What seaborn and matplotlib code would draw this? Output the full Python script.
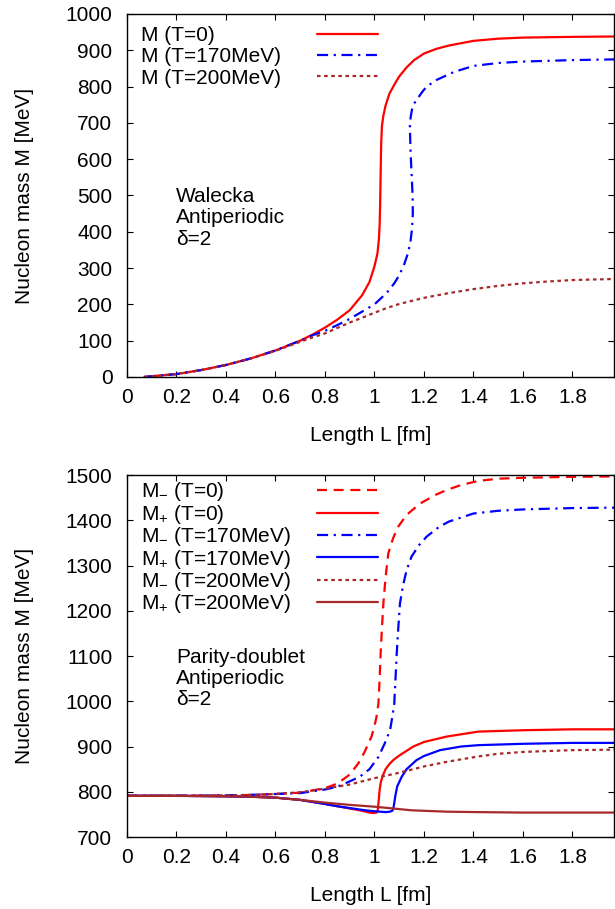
import matplotlib
matplotlib.use('Agg')
import matplotlib.pyplot as plt
from matplotlib.ticker import MultipleLocator, FormatStrFormatter
import seaborn as sns

# ---------------- Walecka, antiperiodic, delta=2 ----------------
wal_L_T0 = [0.07, 0.1, 0.15, 0.2, 0.3, 0.4, 0.5, 0.6, 0.7, 0.75, 0.8, 0.85, 0.9, 0.95, 0.98,
            1.0, 1.012, 1.018, 1.021, 1.023, 1.025, 1.027, 1.03, 1.036, 1.045, 1.06, 1.08,
            1.1, 1.13, 1.16, 1.2, 1.25, 1.3, 1.4, 1.5, 1.6, 1.8, 1.97]
wal_M_T0 = [0, 2, 5, 8, 19, 33, 51, 73, 100, 117, 136, 158, 184, 225, 262,
            305, 340, 380, 420, 480, 560, 640, 690, 720, 748, 780, 805,
            828, 853, 873, 891, 904, 913, 926, 932, 935, 937, 938]

wal_L_T170 = [0.07, 0.1, 0.15, 0.2, 0.3, 0.4, 0.5, 0.6, 0.7, 0.75, 0.8, 0.85, 0.9, 0.95,
              1.0, 1.05, 1.08, 1.1, 1.12, 1.135, 1.145, 1.152, 1.155, 1.154, 1.15, 1.146,
              1.143, 1.146, 1.152, 1.162, 1.177, 1.195, 1.211, 1.25, 1.32, 1.4, 1.5, 1.6,
              1.8, 1.97]
wal_M_T170 = [0, 2, 5, 8, 19, 33, 51, 73, 100, 115, 127, 143, 160, 180,
              200, 232, 258, 280, 310, 340, 370, 410, 450, 500, 560, 620,
              690, 715, 738, 755, 770, 787, 800, 818, 840, 857, 865, 869,
              873, 875]

wal_L_T200 = [0.07, 0.1, 0.15, 0.2, 0.3, 0.4, 0.5, 0.6, 0.7, 0.75, 0.8, 0.85, 0.9, 0.95,
              1.0, 1.05, 1.1, 1.2, 1.3, 1.4, 1.5, 1.6, 1.7, 1.8, 1.97]
wal_M_T200 = [0, 2, 5, 8, 19, 33, 51, 72, 97, 109, 120, 135, 150, 163,
              177, 190, 201, 218, 231, 242, 251, 258, 263, 267, 270]

# ---------------- Parity doublet, antiperiodic, delta=2 ----------------
pd_L_minus_T0 = [0, 0.2, 0.4, 0.5, 0.6, 0.7, 0.8, 0.85, 0.9, 0.935, 0.96, 0.988, 1.0, 1.008,
                 1.016, 1.02, 1.025, 1.03, 1.036, 1.045, 1.056, 1.075, 1.096, 1.13, 1.184,
                 1.25, 1.292, 1.35, 1.42, 1.5, 1.6, 1.8, 1.97]
pd_M_minus_T0 = [791, 791, 792, 793, 795, 798, 808, 818, 838, 863, 888, 922, 945, 965,
                 995, 1040, 1106, 1160, 1216, 1275, 1327, 1360, 1386, 1412, 1437,
                 1457, 1467, 1478, 1487, 1492, 1494, 1496, 1497]

pd_L_plus_T0 = [0, 0.2, 0.4, 0.5, 0.6, 0.7, 0.8, 0.85, 0.9, 0.95, 0.98, 0.995, 1.008, 1.013,
                1.017, 1.021, 1.026, 1.033, 1.045, 1.06, 1.076, 1.1, 1.157, 1.2, 1.292,
                1.42, 1.6, 1.8, 1.97]
pd_M_plus_T0 = [791, 791, 790, 789, 787, 782, 773, 768, 763, 758, 754, 753, 754, 757,
                780, 805, 822, 835, 850, 861, 870, 880, 900, 910, 922,
                933, 936, 938, 938]

pd_L_minus_T170 = [0, 0.2, 0.4, 0.5, 0.6, 0.7, 0.8, 0.85, 0.9, 0.94, 0.98, 1.016, 1.04, 1.063,
                   1.072, 1.08, 1.085, 1.09, 1.096, 1.103, 1.115, 1.13, 1.15, 1.18, 1.211,
                   1.26, 1.3, 1.4, 1.5, 1.6, 1.8, 1.97]
pd_M_minus_T170 = [791, 791, 792, 793, 795, 797, 805, 811, 823, 833, 850, 877, 905, 936,
                   965, 995, 1050, 1106, 1160, 1216, 1255, 1290, 1320, 1345, 1364,
                   1385, 1397, 1415, 1421, 1424, 1427, 1428]

pd_L_plus_T170 = [0, 0.2, 0.4, 0.5, 0.6, 0.7, 0.8, 0.85, 0.9, 0.95, 0.98, 1.0, 1.022, 1.045,
                  1.062, 1.072, 1.076, 1.08, 1.084, 1.092, 1.11, 1.13, 1.17, 1.2, 1.265,
                  1.35, 1.42, 1.6, 1.8, 1.97]
pd_M_plus_T170 = [791, 791, 790, 789, 787, 782, 773, 768, 764, 760, 758, 757, 756, 755,
                  756, 758, 762, 775, 790, 812, 833, 850, 870, 879, 892,
                  900, 903, 906, 908, 908]

pd_L_minus_T200 = [0, 0.2, 0.4, 0.5, 0.6, 0.7, 0.8, 0.9, 0.95, 1.0, 1.05, 1.1, 1.2, 1.3,
                   1.42, 1.5, 1.6, 1.8, 1.97]
pd_M_minus_T200 = [791, 791, 792, 793, 795, 799, 807, 816, 823, 830, 836, 842, 856, 867,
                   878, 884, 888, 892, 893]

pd_L_plus_T200 = [0, 0.2, 0.4, 0.5, 0.6, 0.7, 0.8, 0.9, 1.0, 1.076, 1.15, 1.29, 1.42, 1.6,
                  1.8, 1.97]
pd_M_plus_T200 = [791, 791, 790, 789, 787, 782, 776, 771, 767, 763, 759, 756, 755, 754,
                  754, 754]

red = '#ff0000'
blue = '#0000ff'
brown = '#a52a2a'
solid = '-'
dashed = (0, (4.5, 3))
dashdot = (0, (5, 2.5, 1, 2.5))
dotted = (0, (1.6, 1.6))
fs = 15

sns.set_theme(style='ticks')
plt.rcParams['font.family'] = ['Liberation Sans', 'DejaVu Sans']
plt.rcParams['mathtext.fontset'] = 'custom'
plt.rcParams['mathtext.rm'] = 'Liberation Sans'
plt.rcParams['mathtext.it'] = 'Liberation Sans:italic'
plt.rcParams['font.size'] = fs
plt.rcParams['text.color'] = 'black'
plt.rcParams['axes.labelcolor'] = 'black'

fig = plt.figure(figsize=(6.15, 9.09), dpi=100)
ax1 = fig.add_axes([0.2065, 0.5853, 0.7919, 0.3993])
ax2 = fig.add_axes([0.2065, 0.0792, 0.7919, 0.3982])


def curve(ax, L, M, color, ls, label):
    sns.lineplot(x=L, y=M, ax=ax, sort=False, estimator=None, color=color,
                 linestyle=ls, linewidth=1.6, label=label)


curve(ax1, wal_L_T0, wal_M_T0, red, solid, 'M (T=0)')
curve(ax1, wal_L_T170, wal_M_T170, blue, dashdot, 'M (T=170MeV)')
curve(ax1, wal_L_T200, wal_M_T200, brown, dotted, 'M (T=200MeV)')

curve(ax2, pd_L_minus_T0, pd_M_minus_T0, red, dashed, r'$\mathregular{M_{-}}$ (T=0)')
curve(ax2, pd_L_plus_T0, pd_M_plus_T0, red, solid, r'$\mathregular{M_{+}}$ (T=0)')
curve(ax2, pd_L_minus_T170, pd_M_minus_T170, blue, dashdot, r'$\mathregular{M_{-}}$ (T=170MeV)')
curve(ax2, pd_L_plus_T170, pd_M_plus_T170, blue, solid, r'$\mathregular{M_{+}}$ (T=170MeV)')
curve(ax2, pd_L_minus_T200, pd_M_minus_T200, brown, dotted, r'$\mathregular{M_{-}}$ (T=200MeV)')
curve(ax2, pd_L_plus_T200, pd_M_plus_T200, brown, solid, r'$\mathregular{M_{+}}$ (T=200MeV)')

notes = {ax1: 'Walecka\nAntiperiodic\nδ=2', ax2: 'Parity-doublet\nAntiperiodic\nδ=2'}
ylims = {ax1: (0, 1000), ax2: (700, 1500)}
key_y = {ax1: 0.966, ax2: 0.985}
key_space = {ax1: 0.1, ax2: -0.03}

legends = []
for ax in (ax1, ax2):
    ax.set_xlim(0, 1.968)
    ax.set_ylim(*ylims[ax])
    ax.xaxis.set_major_locator(MultipleLocator(0.2))
    ax.xaxis.set_major_formatter(FormatStrFormatter('%g'))
    ax.yaxis.set_major_locator(MultipleLocator(100))
    ax.tick_params(direction='in', length=4.5, width=0.8, top=True, right=True,
                   labelsize=fs, colors='black')
    ax.tick_params(axis='x', pad=8)
    ax.tick_params(axis='y', pad=10.5)
    for sp in ax.spines.values():
        sp.set_visible(True)
        sp.set_linewidth(1.0)
        sp.set_color('black')
    ax.set_xlabel('Length L [fm]', fontsize=fs)
    ax.set_ylabel('Nucleon mass M [MeV]', fontsize=fs)
    ax.xaxis.set_label_coords(0.5, -0.134)
    ax.yaxis.set_label_coords(-0.19, 0.5)
    ax.text(0.1006, 0.523, notes[ax], transform=ax.transAxes, ha='left', va='top',
            fontsize=fs, linespacing=1.15)
    handles, labels = ax.get_legend_handles_labels()
    leg = ax.legend(handles, labels, loc='upper left', bbox_to_anchor=(0.0287, key_y[ax]),
                    frameon=False, borderpad=0, borderaxespad=0, handlelength=2.95,
                    labelspacing=key_space[ax], markerfirst=False, fontsize=fs)
    legends.append(leg)

# gnuplot style key: labels left aligned, samples in a fixed column
fig.canvas.draw()
renderer = fig.canvas.get_renderer()
dpicor = renderer.points_to_pixels(1.0)
for leg in legends:
    for col in leg._legend_handle_box.get_children():
        for row in col.get_children():
            txt_box = row.get_children()[0]
            w = txt_box.get_window_extent(renderer).width
            row.sep = (176 - w) / dpicor

fig.savefig('out.png', dpi=100)
